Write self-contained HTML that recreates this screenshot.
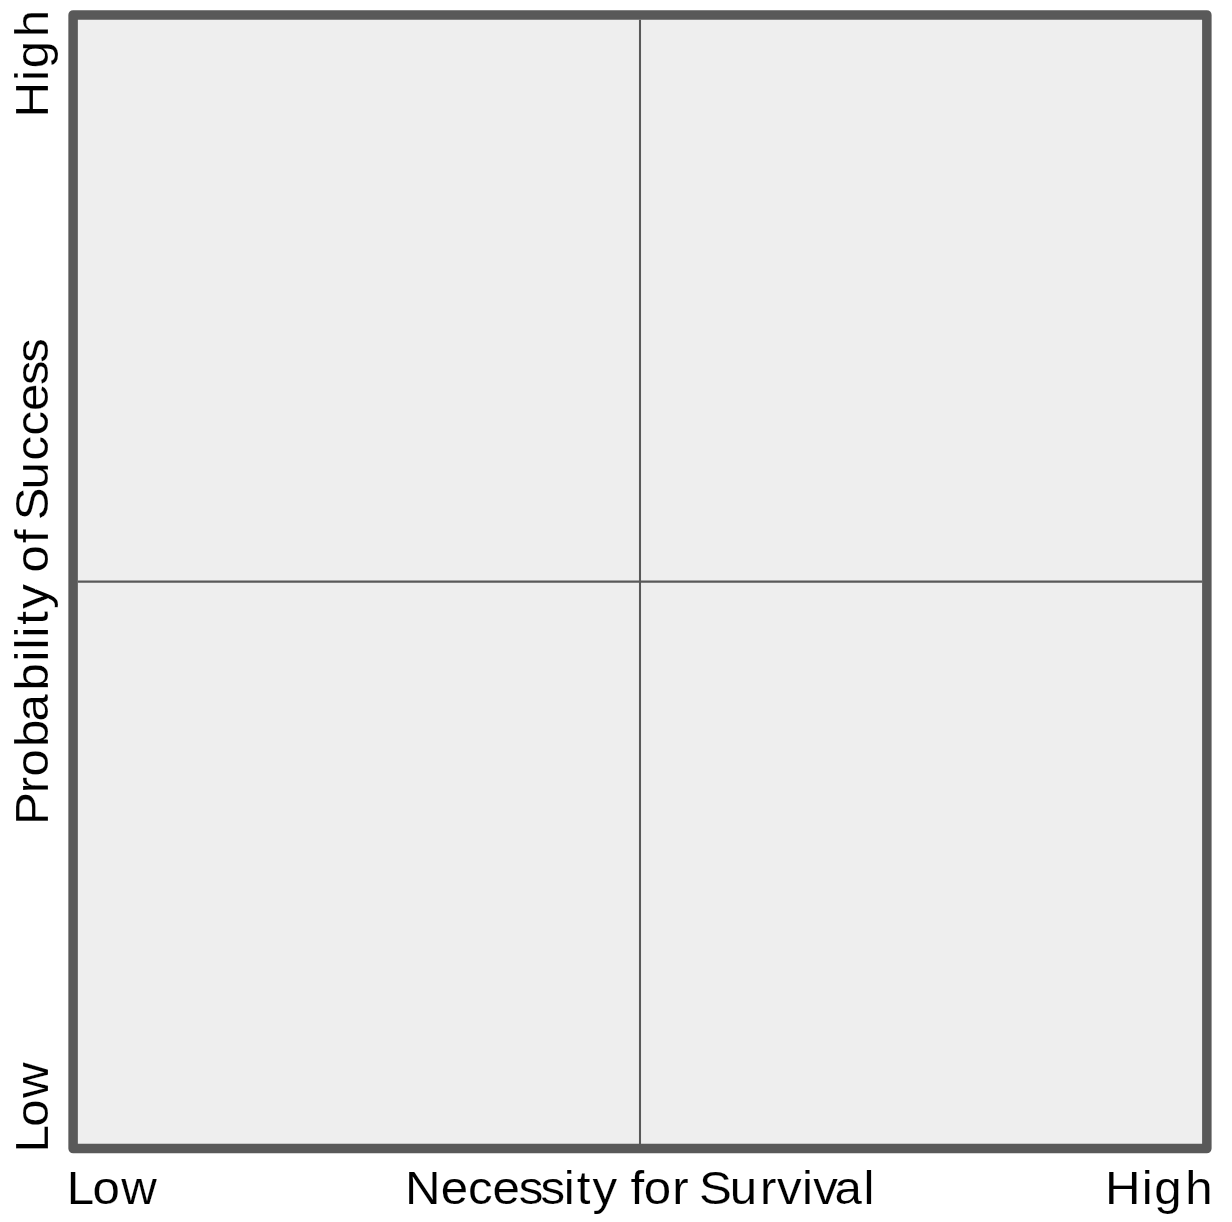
<!DOCTYPE html>
<html lang="en">
<head>
<meta charset="utf-8">
<title>Necessity for Survival vs Probability of Success</title>
<style>
  html, body { margin: 0; padding: 0; background: #ffffff; }
  body { width: 1232px; height: 1222px; overflow: hidden; }
  svg { display: block; }
  text { font-family: "Liberation Sans", Arial, Helvetica, sans-serif; font-size: 46.0px; fill: #000000; stroke: #ffffff; stroke-width: 0.15px; white-space: pre; }
</style>
</head>
<body>
<svg width="1232" height="1222" viewBox="0 0 1232 1222">
  <rect x="0" y="0" width="1232" height="1222" fill="#ffffff"/>
  <!-- matrix frame -->
  <rect x="73.1" y="14.9" width="1133.75" height="1133.7" fill="#eeeeee" stroke="#595959" stroke-width="9.5" stroke-linejoin="round"/>
  <!-- quadrant dividers -->
  <line x1="640" y1="19.8" x2="640" y2="1144" stroke="#595959" stroke-width="2.05"/>
  <line x1="77.8" y1="581.72" x2="1202.1" y2="581.72" stroke="#595959" stroke-width="2.2"/>

  <!-- x axis labels -->
  <text transform="translate(0,1203.85) scale(1.0700,1)" x="62.37 86.51 113.37" y="0">Low</text>
  <text transform="translate(0,1203.85) scale(1.0700,1)" x="378.43 411.88 437.43 460.24 484.77 505.05 526.82 539.04 553.63 571.41 589.19 601.74 628.34 640.76 653.18 682.06 710.21 726.12 749.57 759.95 779.97 807.10" y="0">Necessity for Survival</text>
  <text transform="translate(0,1203.85) scale(1.0700,1)" x="1032.63 1067.00 1078.80 1107.67" y="0">High</text>

  <!-- y axis labels -->
  <text transform="translate(48.15,0) rotate(-90) scale(1.0700,1)" x="-1077.14 -1053.10 -1026.21" y="0">Low</text>
  <text transform="translate(48.15,0) rotate(-90) scale(1.0700,1)" x="-771.01 -741.33 -725.78 -698.12 -674.21 -645.41 -618.32 -607.08 -595.87 -583.77 -568.89 -551.96 -535.03 -507.78 -497.04 -486.31 -457.43 -430.28 -407.10 -384.01 -359.72 -339.07" y="0">Probability of Success</text>
  <text transform="translate(48.15,0) rotate(-90) scale(1.0700,1)" x="-109.89 -75.52 -63.72 -34.86" y="0">High</text>
</svg>
</body>
</html>
